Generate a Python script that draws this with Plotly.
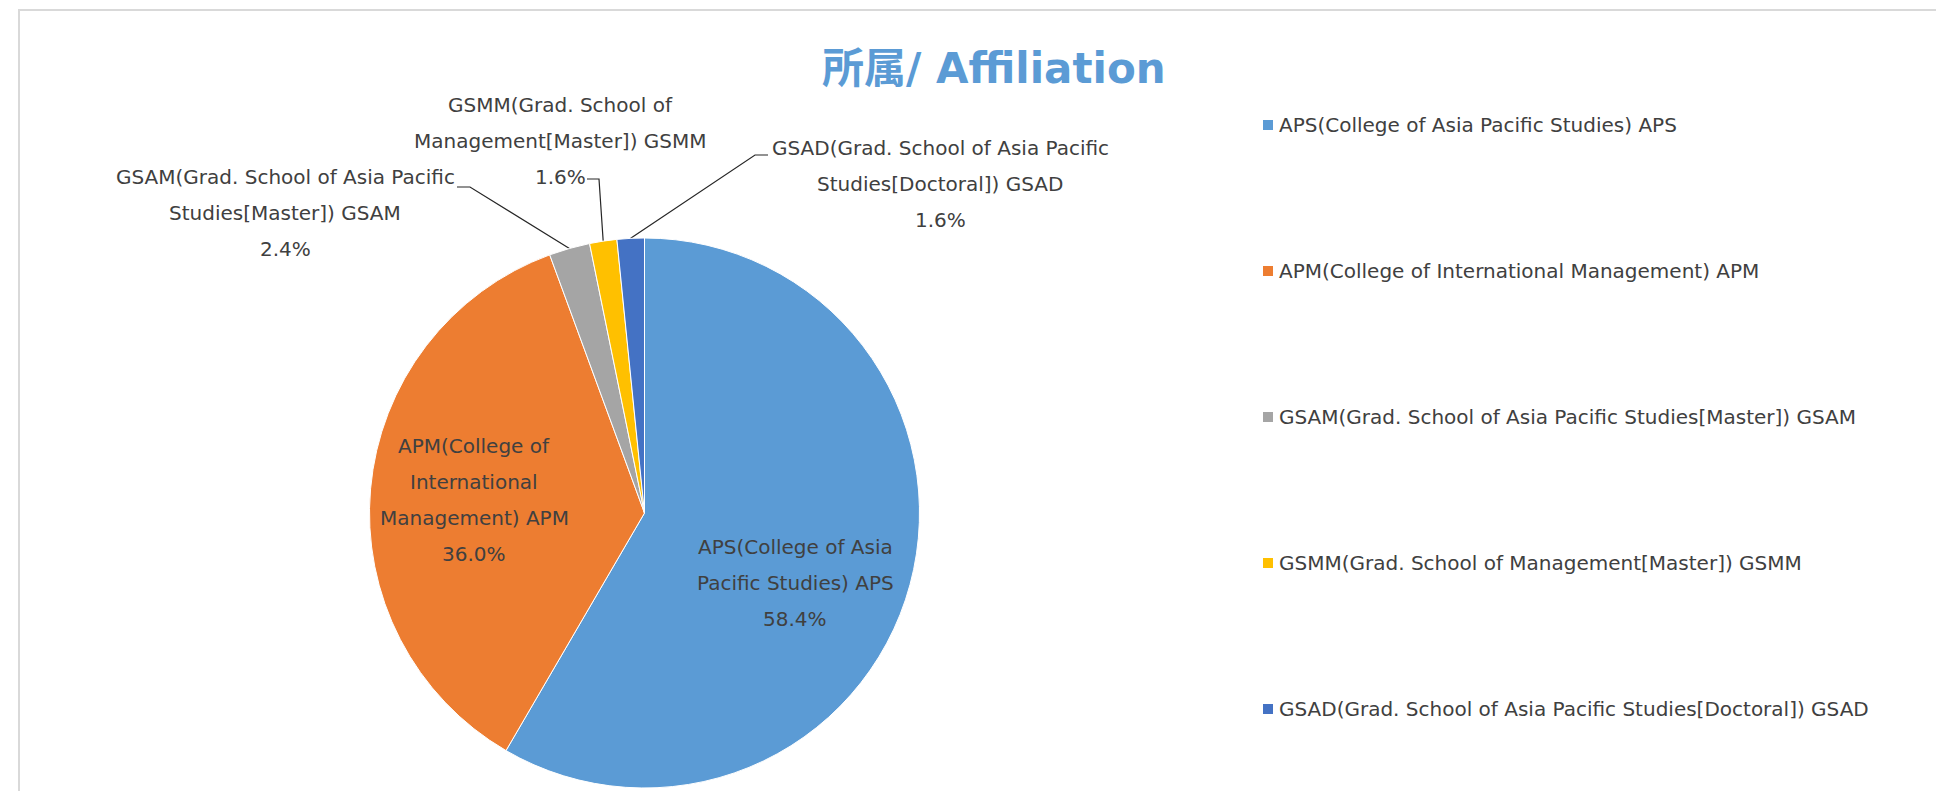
import math

import plotly.graph_objects as go

# data
categories = [
    "APS(College of Asia Pacific Studies) APS",
    "APM(College of International Management) APM",
    "GSAM(Grad. School of Asia Pacific Studies[Master]) GSAM",
    "GSMM(Grad. School of Management[Master]) GSMM",
    "GSAD(Grad. School of Asia Pacific Studies[Doctoral]) GSAD",
]
counts = [73, 45, 3, 2, 2]
colors = ["#5B9BD5", "#ED7D31", "#A5A5A5", "#FFC000", "#4472C4"]
title_text = "所属/ Affiliation"

# how excel wrapped the data labels
wrapped = [
    ["APS(College of Asia", "Pacific Studies) APS"],
    ["APM(College of", "International", "Management) APM"],
    ["GSAM(Grad. School of Asia Pacific", "Studies[Master]) GSAM"],
    ["GSMM(Grad. School of", "Management[Master]) GSMM"],
    ["GSAD(Grad. School of Asia Pacific", "Studies[Doctoral]) GSAD"],
]

W, H = 1944, 791
OFF = 8  # the page body margin shifts the figure, so pixel axes start at OFF
FONT = "DejaVu Sans"
TXT = "#404040"

# pie geometry in pixels (page coords)
CX, CY, R = 644.5, 513, 275

# label block: (center x, first line y)
label_pos = [(795, 547), (474, 446), (285, 177), (560, 105), (940, 148)]
LINE_H = 36

# leader lines: elbow point, end point (only for the small slices)
leaders = {
    2: [(470, 187), (457, 187)],
    3: [(599, 179), (587, 179)],
    4: [(755, 155), (768, 155)],
}

total = sum(counts)
pcts = [f"{100 * c / total:.1f}%" for c in counts]

fig = go.Figure()

fig.add_trace(
    go.Pie(
        labels=categories,
        values=counts,
        sort=False,
        direction="clockwise",
        rotation=0,
        marker=dict(colors=colors, line=dict(color="white", width=1)),
        textinfo="none",
        hoverinfo="label+percent",
        showlegend=False,
        domain=dict(
            x=[(CX - R - OFF) / W, (CX + R - OFF) / W],
            y=[1 - (CY + R - OFF) / H, 1 - (CY - R - OFF) / H],
        ),
    )
)

# leader lines from middle of slice edge
cum = 0
for i, c in enumerate(counts):
    mid = (cum + c / 2) / total * 2 * math.pi
    cum += c
    if i not in leaders:
        continue
    ex = CX + R * math.sin(mid)
    ey = CY - R * math.cos(mid)
    pts = [(ex, ey)] + leaders[i]
    fig.add_trace(
        go.Scatter(
            x=[p[0] for p in pts],
            y=[p[1] for p in pts],
            mode="lines",
            line=dict(color="#262626", width=1.2),
            hoverinfo="skip",
            showlegend=False,
        )
    )

annotations = []
for i, lines in enumerate(wrapped):
    x0, y0 = label_pos[i]
    for j, t in enumerate(lines + [pcts[i]]):
        annotations.append(
            dict(
                x=x0, y=y0 + j * LINE_H, xref="x", yref="y", text=t, showarrow=False,
                font=dict(family=FONT, size=20, color=TXT), xanchor="center", yanchor="middle",
            )
        )

# legend, excel style (big gaps between rows)
LEG_X, LEG_Y, LEG_STEP = 1277, 125, 146
for i, name in enumerate(categories):
    annotations.append(
        dict(
            x=LEG_X, y=LEG_Y + i * LEG_STEP, xref="x", yref="y", text=name, showarrow=False,
            font=dict(family=FONT, size=20, color=TXT), xanchor="left", yanchor="middle",
        )
    )
fig.add_trace(
    go.Scatter(
        x=[LEG_X - 9] * len(categories),
        y=[LEG_Y + i * LEG_STEP for i in range(len(categories))],
        mode="markers",
        marker=dict(symbol="square", size=10, color=colors),
        hoverinfo="skip",
        showlegend=False,
    )
)

annotations.append(
    dict(
        x=994, y=68, xref="x", yref="y", text="<b>" + title_text + "</b>", showarrow=False,
        font=dict(family=FONT + ", Noto Sans CJK JP", size=42, color="#5B9BD5"),
        xanchor="center", yanchor="middle",
    )
)

fig.update_layout(
    width=W,
    height=H,
    margin=dict(l=0, r=0, t=0, b=0),
    paper_bgcolor="white",
    plot_bgcolor="rgba(0,0,0,0)",
    xaxis=dict(range=[OFF, W + OFF], visible=False, fixedrange=True, domain=[0, 1]),
    yaxis=dict(range=[H + OFF, OFF], visible=False, fixedrange=True, domain=[0, 1]),
    annotations=annotations,
    shapes=[
        dict(type="rect", xref="x", yref="y", x0=19, y0=10, x1=W + 40, y1=H + 40,
             line=dict(color="#D9D9D9", width=2), layer="below"),
    ],
)

fig.write_html("out.html")
